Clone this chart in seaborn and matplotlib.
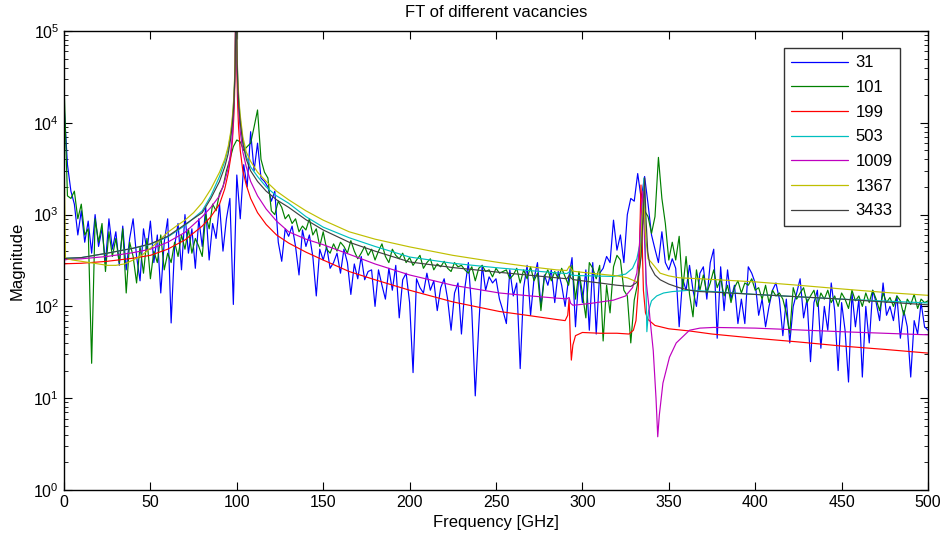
import numpy as np
import pandas as pd
import matplotlib
matplotlib.use("Agg")
import matplotlib.pyplot as plt
import seaborn as sns

# ---------------- data ----------------
series_names = ["31", "101", "199", "503", "1009", "1367", "3433"]
series_colors = ["#0000ff", "#008000", "#ff0000", "#00bfbf", "#bf00bf", "#bfbf00", "#404040"]

freq_noisy = np.arange(0, 501, 2)  # 0, 2, ..., 500 GHz

mag_31 = [
    16000, 3500, 1800, 1300, 600, 1100, 500, 850, 380, 1000,
    450, 700, 300, 900, 420, 650, 280, 750, 250, 550,
    900, 350, 190, 700, 400, 850, 300, 600, 140, 500,
    900, 66, 450, 800, 250, 1000, 380, 700, 260, 900,
    450, 1200, 320, 800, 550, 1300, 400, 900, 1500, 105,
    2700, 900, 3500, 2000, 8000, 3000, 6000, 2500, 2300, 2000,
    1400, 1800, 500, 310, 700, 580, 750, 450, 220, 680,
    450, 600, 350, 130, 420, 320, 450, 260, 300, 380,
    230, 420, 300, 135, 290, 200, 350, 195, 240, 250,
    100, 250, 170, 120, 260, 150, 280, 75, 195, 230,
    110, 19, 200, 160, 140, 230, 150, 190, 90, 160,
    200, 120, 55, 140, 180, 50, 160, 300, 90, 10.6,
    60, 280, 150, 210, 180, 200, 120, 90, 65, 250,
    130, 180, 21, 160, 280, 80, 200, 300, 100, 220,
    170, 250, 110, 240, 170, 100, 200, 340, 60, 230,
    110, 250, 55, 300, 50, 230, 260, 350, 300, 870,
    410, 600, 300, 1000, 1500, 1400, 2800, 1500, 2600, 1300,
    600, 420, 300, 650, 300, 250, 330, 260, 60, 200,
    150, 280, 150, 100, 230, 270, 120, 300, 420, 45,
    270, 90, 250, 120, 170, 65, 120, 65, 270, 230,
    180, 80, 120, 60, 100, 150, 180, 120, 48, 120,
    40, 100, 140, 200, 75, 120, 25, 110, 150, 35,
    100, 55, 180, 90, 20, 110, 55, 15, 140, 60,
    120, 17, 100, 40, 150, 110, 70, 180, 80, 100,
    70, 130, 45, 90, 60, 17, 70, 50, 110, 60,
    55,
]

mag_101 = [
    27000, 1600, 1500, 1800, 900, 1300, 600, 700, 24, 900,
    500, 800, 240, 650, 350, 550, 300, 700, 140, 500,
    350, 180, 450, 230, 550, 200, 400, 300, 600, 250,
    380, 300, 500, 350, 600, 420, 700, 380, 550, 450,
    350, 1000, 700, 1300, 1100, 1700, 2000, 3000, 4000, 5500,
    6500, 6200, 5000, 5500, 6000, 9000, 13800, 4000, 2900, 2500,
    1100, 1000, 1400, 1200, 900, 1000, 800, 900, 650, 750,
    680, 900, 600, 700, 450, 650, 420, 380, 480, 400,
    500, 450, 380, 520, 400, 330, 380, 450, 360, 420,
    320, 400, 480, 350, 300, 420, 360, 330, 380, 300,
    340, 280, 320, 360, 260, 300, 330, 250, 290, 270,
    310, 260, 240, 300, 270, 280, 250, 230, 270, 190,
    260, 280, 240, 250, 210, 260, 230, 240, 250, 200,
    220, 260, 180, 250, 200, 270, 190, 230, 90, 210,
    250, 190, 240, 200, 260, 210, 170, 280, 120, 240,
    140, 75, 300, 260, 200, 280, 42, 170, 85, 270,
    360, 320, 150, 130, 40, 117, 178, 625, 1100, 950,
    625, 950, 4200, 1500, 800, 320, 500, 320, 580, 150,
    350, 135, 77, 250, 150, 220, 140, 180, 250, 160,
    200, 130, 170, 110, 160, 190, 140, 180, 170, 200,
    150, 160, 120, 170, 110, 150, 130, 140, 120, 85,
    51, 160, 120, 140, 160, 110, 130, 150, 100, 140,
    120, 150, 110, 130, 100, 140, 120, 95, 150, 115,
    130, 100, 140, 110, 150, 120, 90, 140, 110, 125,
    100, 130, 115, 80, 120, 105, 135, 95, 120, 110,
    115,
]

freq_199 = [0, 2, 10, 25, 40, 50, 60, 70, 80, 85, 90, 93, 95, 96.5, 97.5, 98.2, 98.7, 99.0,
            99.3, 99.7, 100.0, 100.4, 101, 102, 103.5, 105.5, 108, 112, 117, 123, 130, 140,
            150, 165, 180, 200, 225, 252, 270, 285, 290, 291.5, 292.3, 293, 293.6, 294.5, 296,
            300, 310, 320, 327, 329.5, 331, 332.3, 333.2, 333.9, 334.6, 335.3, 336.5, 338,
            342, 350, 362, 375, 400, 425, 450, 475, 500]
mag_199 = [290, 292, 295, 310, 335, 360, 420, 530, 750, 950, 1300, 1900, 2800, 4200, 6500,
           11000, 20000, 40000, 150000, 150000, 40000, 18000, 9000, 5000, 3000, 2100, 1500,
           1050, 780, 600, 490, 390, 320, 240, 195, 150, 112, 88, 79, 72, 70, 80, 120, 45, 26,
           38, 48, 52, 51, 51, 50, 55, 70, 150, 600, 2100, 500, 150, 85, 72, 62, 57, 54, 50,
           45, 41, 37, 34, 31]

freq_503 = [0, 2, 10, 25, 40, 50, 60, 70, 80, 85, 90, 93, 95, 96.5, 97.5, 98.2, 98.7, 99.1,
            99.4, 99.8, 100.2, 100.6, 101.2, 102, 103.5, 105.5, 108, 112, 117, 123, 130, 140,
            150, 165, 180, 200, 225, 252, 270, 285, 291, 292.5, 293.3, 294.2, 297, 305, 318,
            325, 329, 331.5, 333.5, 334.8, 335.6, 336.4, 337.3, 338.3, 340, 343, 347, 352,
            362, 376, 400, 450, 500]
mag_503 = [330, 335, 340, 380, 430, 475, 570, 760, 1100, 1600, 2600, 3800, 5200, 7500, 11000,
           17000, 28000, 50000, 150000, 150000, 50000, 28000, 17000, 11000, 6500, 4300, 3300,
           2600, 2000, 1600, 1330, 950, 730, 560, 450, 345, 295, 262, 245, 232, 228, 238, 222,
           218, 217, 215, 212, 225, 260, 330, 500, 1200, 2500, 400, 53, 90, 115, 130, 140,
           145, 150, 145, 135, 120, 109]

freq_1009 = [0, 2, 10, 25, 40, 50, 60, 70, 80, 85, 90, 93, 95, 96.5, 97.5, 98.2, 98.7, 99.0,
             99.3, 99.7, 100.1, 100.5, 101, 102, 103.5, 105.5, 108, 112, 117, 123, 130, 140,
             150, 165, 180, 200, 225, 252, 270, 285, 291, 292.3, 293.2, 294.5, 297, 305, 318,
             325, 329, 331.5, 333, 334, 335, 336, 337, 338.5, 339, 341, 342.6, 343.6, 344.5,
             346.6, 350.4, 354.3, 362, 368, 376, 400, 450, 500]
mag_1009 = [320, 325, 330, 350, 385, 420, 500, 640, 950, 1200, 1600, 2300, 3200, 4800, 7500,
            13000, 25000, 45000, 150000, 150000, 45000, 25000, 15000, 8000, 4800, 3300, 2300,
            1600, 1150, 850, 650, 540, 470, 370, 290, 220, 170, 140, 130, 123, 121, 125, 108,
            103, 104, 108, 117, 130, 160, 230, 450, 1100, 1800, 500, 180, 100, 77, 33, 10, 3.8,
            6.5, 14.6, 28, 40, 55, 58, 59, 58, 53, 49]

freq_1367 = [0, 0.3, 0.8, 2, 5, 10, 15, 20, 25, 30, 35, 40, 45, 50, 55, 60, 65, 70, 75, 80, 85,
             90, 93, 95, 96.5, 97.5, 98.2, 98.7, 99.1, 99.4, 99.8, 100.2, 100.6, 101.2, 102,
             103.5, 105.5, 108, 112, 117, 123, 130, 140, 150, 165, 180, 200, 225, 252, 270, 285,
             291, 292.5, 293.3, 294.5, 300, 310, 320, 326, 330, 332, 333.5, 334.5, 335.5, 336.5,
             338, 340, 345, 350, 356, 368, 400, 425, 450, 475, 500]
mag_1367 = [7500, 2000, 340, 330, 320, 310, 300, 290, 280, 280, 290, 320, 360, 430, 520, 640,
            750, 870, 1050, 1350, 1900, 2900, 4000, 5500, 8000, 12000, 18000, 30000, 55000,
            150000, 150000, 55000, 30000, 18000, 12000, 7000, 4800, 3800, 2900, 2300, 1800,
            1450, 1100, 870, 650, 540, 445, 360, 300, 270, 250, 246, 275, 260, 242, 235, 225,
            215, 205, 190, 185, 300, 900, 1500, 600, 330, 300, 230, 215, 205, 200, 185, 170,
            155, 142, 132]

freq_3433 = [0, 2, 10, 25, 40, 50, 60, 70, 80, 85, 90, 93, 95, 96.5, 97.5, 98.2, 98.7, 99.1,
             99.4, 99.8, 100.2, 100.6, 101.2, 102, 103.5, 105.5, 108, 112, 117, 123, 130, 140,
             150, 165, 180, 200, 225, 252, 270, 285, 291, 292.5, 293.3, 294.5, 300, 310, 320,
             328, 332, 334, 335.2, 336, 336.8, 337.8, 339, 342, 345, 350, 356, 362, 368, 376,
             400, 450, 500]
mag_3433 = [330, 335, 340, 380, 430, 480, 580, 780, 1050, 1500, 2300, 3300, 4600, 6800, 10000,
            15000, 25000, 45000, 150000, 150000, 45000, 25000, 15000, 10000, 6000, 4000, 3000,
            2300, 1800, 1450, 1200, 880, 680, 500, 400, 305, 265, 235, 218, 205, 200, 218, 205,
            196, 190, 180, 170, 165, 185, 350, 1000, 2500, 900, 400, 280, 220, 195, 175, 160,
            150, 145, 143, 135, 120, 104]

x_ticks = [0, 50, 100, 150, 200, 250, 300, 350, 400, 450, 500]

# ---------------- long table ----------------
freqs = [freq_noisy, freq_noisy, freq_199, freq_503, freq_1009, freq_1367, freq_3433]
mags = [mag_31, mag_101, mag_199, mag_503, mag_1009, mag_1367, mag_3433]
frames = []
for i, (name, f, m) in enumerate(zip(series_names, freqs, mags)):
    frames.append(pd.DataFrame({"freq": np.asarray(f, float), "mag": np.asarray(m, float),
                                "series": name, "order": i}))
df = pd.concat(frames, ignore_index=True)

# ---------------- plot ----------------
sns.set_style("ticks")
plt.rcParams["font.family"] = ["Liberation Sans", "DejaVu Sans"]
plt.rcParams["mathtext.default"] = "regular"
for key in ["text.color", "axes.labelcolor", "xtick.color", "ytick.color",
            "xtick.labelcolor", "ytick.labelcolor"]:
    plt.rcParams[key] = "black"

fig = plt.figure(figsize=(9.43, 5.40), dpi=100)
ax = fig.add_axes([64 / 943, 50 / 540, 864 / 943, 459 / 540])

palette = dict(zip(series_names, series_colors))
sns.lineplot(data=df, x="freq", y="mag", hue="series", hue_order=series_names,
             palette=palette, estimator=None, linewidth=0.85, ax=ax, legend=False)

ax.set_yscale("log")
ax.set_xlim(0, 500)
ax.set_ylim(1, 1e5)
ax.set_xticks(x_ticks)
ax.set_xticklabels([str(t) for t in x_ticks])
ax.tick_params(axis="both", which="both", direction="in", top=True, right=True,
               labelsize=11.5, colors="black", labelcolor="black")
ax.tick_params(which="major", length=6, width=0.8)
ax.tick_params(which="minor", length=3, width=0.6)
for s in ax.spines.values():
    s.set_color("black")
    s.set_linewidth(1.0)

ax.set_xlabel("Frequency [GHz]", fontsize=12, labelpad=4, color="black")
ax.set_ylabel("Magnitude", fontsize=12, labelpad=6, color="black")
ax.set_title("FT of different vacancies", fontsize=12, pad=10, color="black")

handles = [plt.Line2D([], [], color=c, lw=0.9) for c in series_colors]
leg = ax.legend(handles, series_names, loc="upper right", bbox_to_anchor=(0.9676, 0.963),
                fontsize=12, frameon=True, fancybox=False, edgecolor="black",
                handlelength=3.4, handletextpad=0.45, labelspacing=0.58,
                borderpad=0.45, borderaxespad=0.0)
leg.get_frame().set_linewidth(1.0)
for t in leg.get_texts():
    t.set_color("black")

fig.savefig("out.png", dpi=100)
